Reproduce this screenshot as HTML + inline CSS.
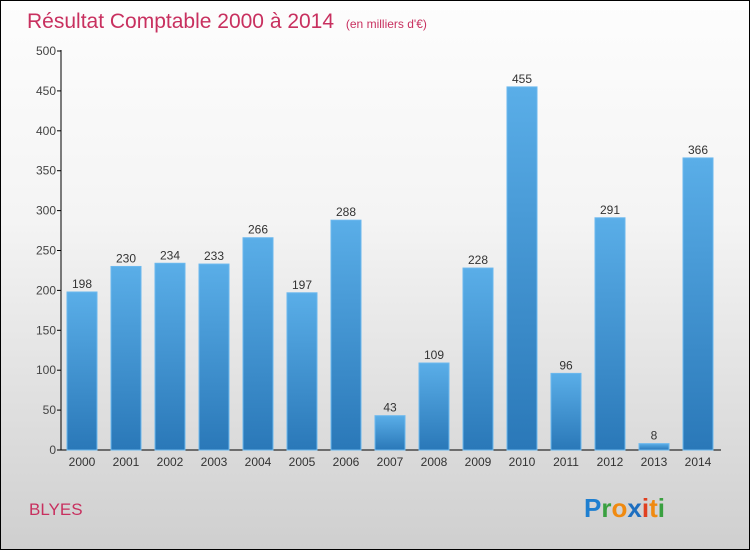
<!DOCTYPE html>
<html><head><meta charset="utf-8"><style>
body{margin:0}
#c{position:relative;width:748px;height:548px;border:1px solid #000;background:linear-gradient(#fdfdfd,#f4f4f4 40%,#cfcfcf);font-family:"Liberation Sans",sans-serif;overflow:hidden}
</style></head><body>
<div id="c">
<svg width="748" height="548" id="s">
<defs><linearGradient id="g" x1="0" y1="0" x2="0" y2="1"><stop offset="0" stop-color="#5aaee8"/><stop offset="1" stop-color="#2a78b8"/></linearGradient></defs>
<text x="26" y="27" font-size="21" fill="#c8305f">Résultat Comptable 2000 à 2014 <tspan font-size="12" dx="6">(en milliers d'€)</tspan></text>
<text x="28" y="514" font-size="17" fill="#c8305f">BLYES</text>
<text x="583" y="516" font-size="26" font-weight="bold"><tspan fill="#1e7fd0">P</tspan><tspan fill="#3aa040">r</tspan><tspan fill="#f08a10">o</tspan><tspan fill="#1e6fc0">x</tspan><tspan fill="#e04020">i</tspan><tspan fill="#f08a10">t</tspan><tspan fill="#3aa040">i</tspan></text>
<g id="plot"></g>
</svg></div>
<script>
const categories=["2000","2001","2002","2003","2004","2005","2006","2007","2008","2009","2010","2011","2012","2013","2014"];
const values=[198,230,234,233,266,197,288,43,109,228,455,96,291,8,366];
const yTicks=[0,50,100,150,200,250,300,350,400,450,500];
const y=v=>449-v*(449-50)/500;
const x=i=>66+i*44;
const ns="http://www.w3.org/2000/svg",p=document.getElementById('plot');
function mk(t,a,txt){const e=document.createElementNS(ns,t);for(const k in a)e.setAttribute(k,a[k]);if(txt!=null)e.textContent=txt;p.appendChild(e);return e;}
let ax=mk('line',{x1:60,y1:49,x2:60,y2:449,stroke:'#000'});


let bx=mk('line',{x1:60,y1:449,x2:720,y2:449,stroke:'#000'});


yTicks.forEach(t=>{
 const l=mk('line',{x1:56,y1:y(t),x2:60,y2:y(t),stroke:'#000'});
 
 
 const tx=mk('text',{x:55,y:y(t)+4,'font-size':12,fill:'#444','text-anchor':'end'},t);
 
 
});
values.forEach((v,i)=>{
 const r=mk('rect',{x:x(i),y:y(v),width:30,height:449-y(v),fill:'url(#g)',stroke:'#6bb8ee','stroke-width':1});
 
 
 const t=mk('text',{x:x(i)+15,y:y(v)-4,'font-size':12,fill:'#333','text-anchor':'middle'},v);
 
 
 const c=mk('text',{x:x(i)+15,y:465,'font-size':12,fill:'#333','text-anchor':'middle'},categories[i]);
 
 
});
</script>
</body></html>
